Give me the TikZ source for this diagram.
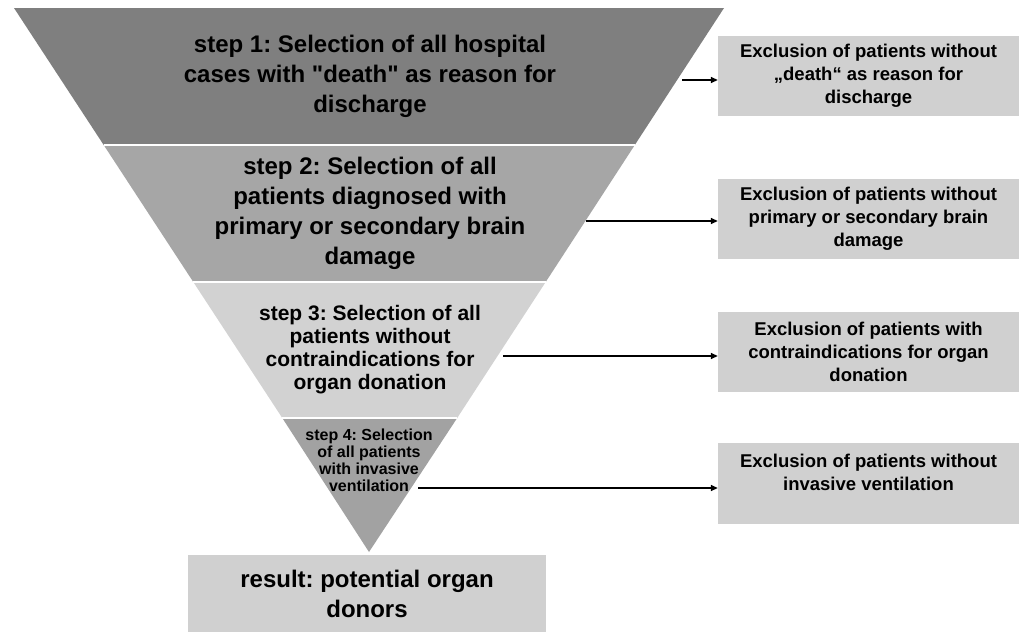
\documentclass[tikz,border=0pt]{standalone}
\usepackage{fontspec}
\setmainfont{Liberation Sans}
\newfontfamily\rawsans{Liberation Sans}
\usetikzlibrary{arrows.meta}
\definecolor{bandA}{RGB}{127,127,127}
\definecolor{bandB}{RGB}{166,166,166}
\definecolor{bandC}{RGB}{210,210,210}
\definecolor{bandD}{RGB}{162,162,162}
\definecolor{boxgray}{RGB}{208,208,208}
\frenchspacing
\begin{document}
\begin{tikzpicture}[x=1pt,y=-1pt,
  bigtext/.style={align=center,text=black,inner sep=0pt,font=\rawsans\bfseries\fontsize{24}{30}\selectfont},
  midtext/.style={align=center,text=black,inner sep=0pt,font=\rawsans\bfseries\fontsize{21}{23}\selectfont},
  smalltext/.style={align=center,text=black,inner sep=0pt,font=\rawsans\bfseries\fontsize{16}{17}\selectfont},
  exbox/.style={fill=boxgray,draw=none,minimum width=301pt,minimum height=80pt,inner sep=0pt,align=center,text=black,font=\rawsans\bfseries\fontsize{18.5}{23}\selectfont},
  resbox/.style={fill=boxgray,draw=none,minimum width=358pt,minimum height=77pt,inner sep=0pt,align=center,text=black,font=\rawsans\bfseries\fontsize{24}{30}\selectfont},
  exarrow/.style={line width=1.5pt,draw=black,-{Triangle[length=7pt,width=6pt]}},
  sepline/.style={draw=white,line width=2.5pt}]
\useasboundingbox (0,0) rectangle (1022,632);
\fill[white] (0,0) rectangle (1022,632);
% funnel bands
\fill[bandA] (14,8) -- (724,8) -- (634.8,145) -- (103.7,145) -- cycle;
\fill[bandB] (103.7,145) -- (634.8,145) -- (545.7,282) -- (193.3,282) -- cycle;
\fill[bandC] (193.3,282) -- (545.7,282) -- (457.2,418) -- (282.3,418) -- cycle;
\fill[bandD] (282.3,418) -- (457.2,418) -- (369,552) -- cycle;
\draw[sepline] (103.7,145) -- (634.8,145);
\draw[sepline] (193.3,282) -- (545.7,282);
\draw[sepline] (282.3,418) -- (457.2,418);
% step texts
\node[bigtext] (s1) at (370,76) {step 1: Selection of all hospital\\cases with "death" as reason for\\discharge};
\node[bigtext] (s2) at (370,213) {step 2: Selection of all\\patients diagnosed with\\primary or secondary brain\\damage};
\node[midtext] (s3) at (370,350) {step 3: Selection of all\\patients without\\contraindications for\\organ donation};
\node[smalltext] (s4) at (369,460) {step 4: Selection\\of all patients\\with invasive\\ventilation};
% exclusion boxes
\node[exbox] (b1) at (868.5,76) {Exclusion of patients without\\„death“ as reason for\\discharge};
\node[exbox] (b2) at (868.5,219) {Exclusion of patients without\\primary or secondary brain\\damage};
\node[exbox] (b3) at (868.5,352) {Exclusion of patients with\\contraindications for organ\\donation};
\node[exbox,minimum height=81pt] (b4) at (868.5,483.5) {Exclusion of patients without\\invasive ventilation\\\mbox{}};
% result
\node[resbox] (r) at (367,593.5) {result: potential organ\\donors};
% arrows
\coordinate (a1) at (682,80);
\coordinate (a2) at (586,221);
\coordinate (a3) at (503,356);
\coordinate (a4) at (418,488);
\draw[exarrow] (a1) -- (a1 -| b1.west);
\draw[exarrow] (a2) -- (a2 -| b2.west);
\draw[exarrow] (a3) -- (a3 -| b3.west);
\draw[exarrow] (a4) -- (a4 -| b4.west);
\end{tikzpicture}
\end{document}
